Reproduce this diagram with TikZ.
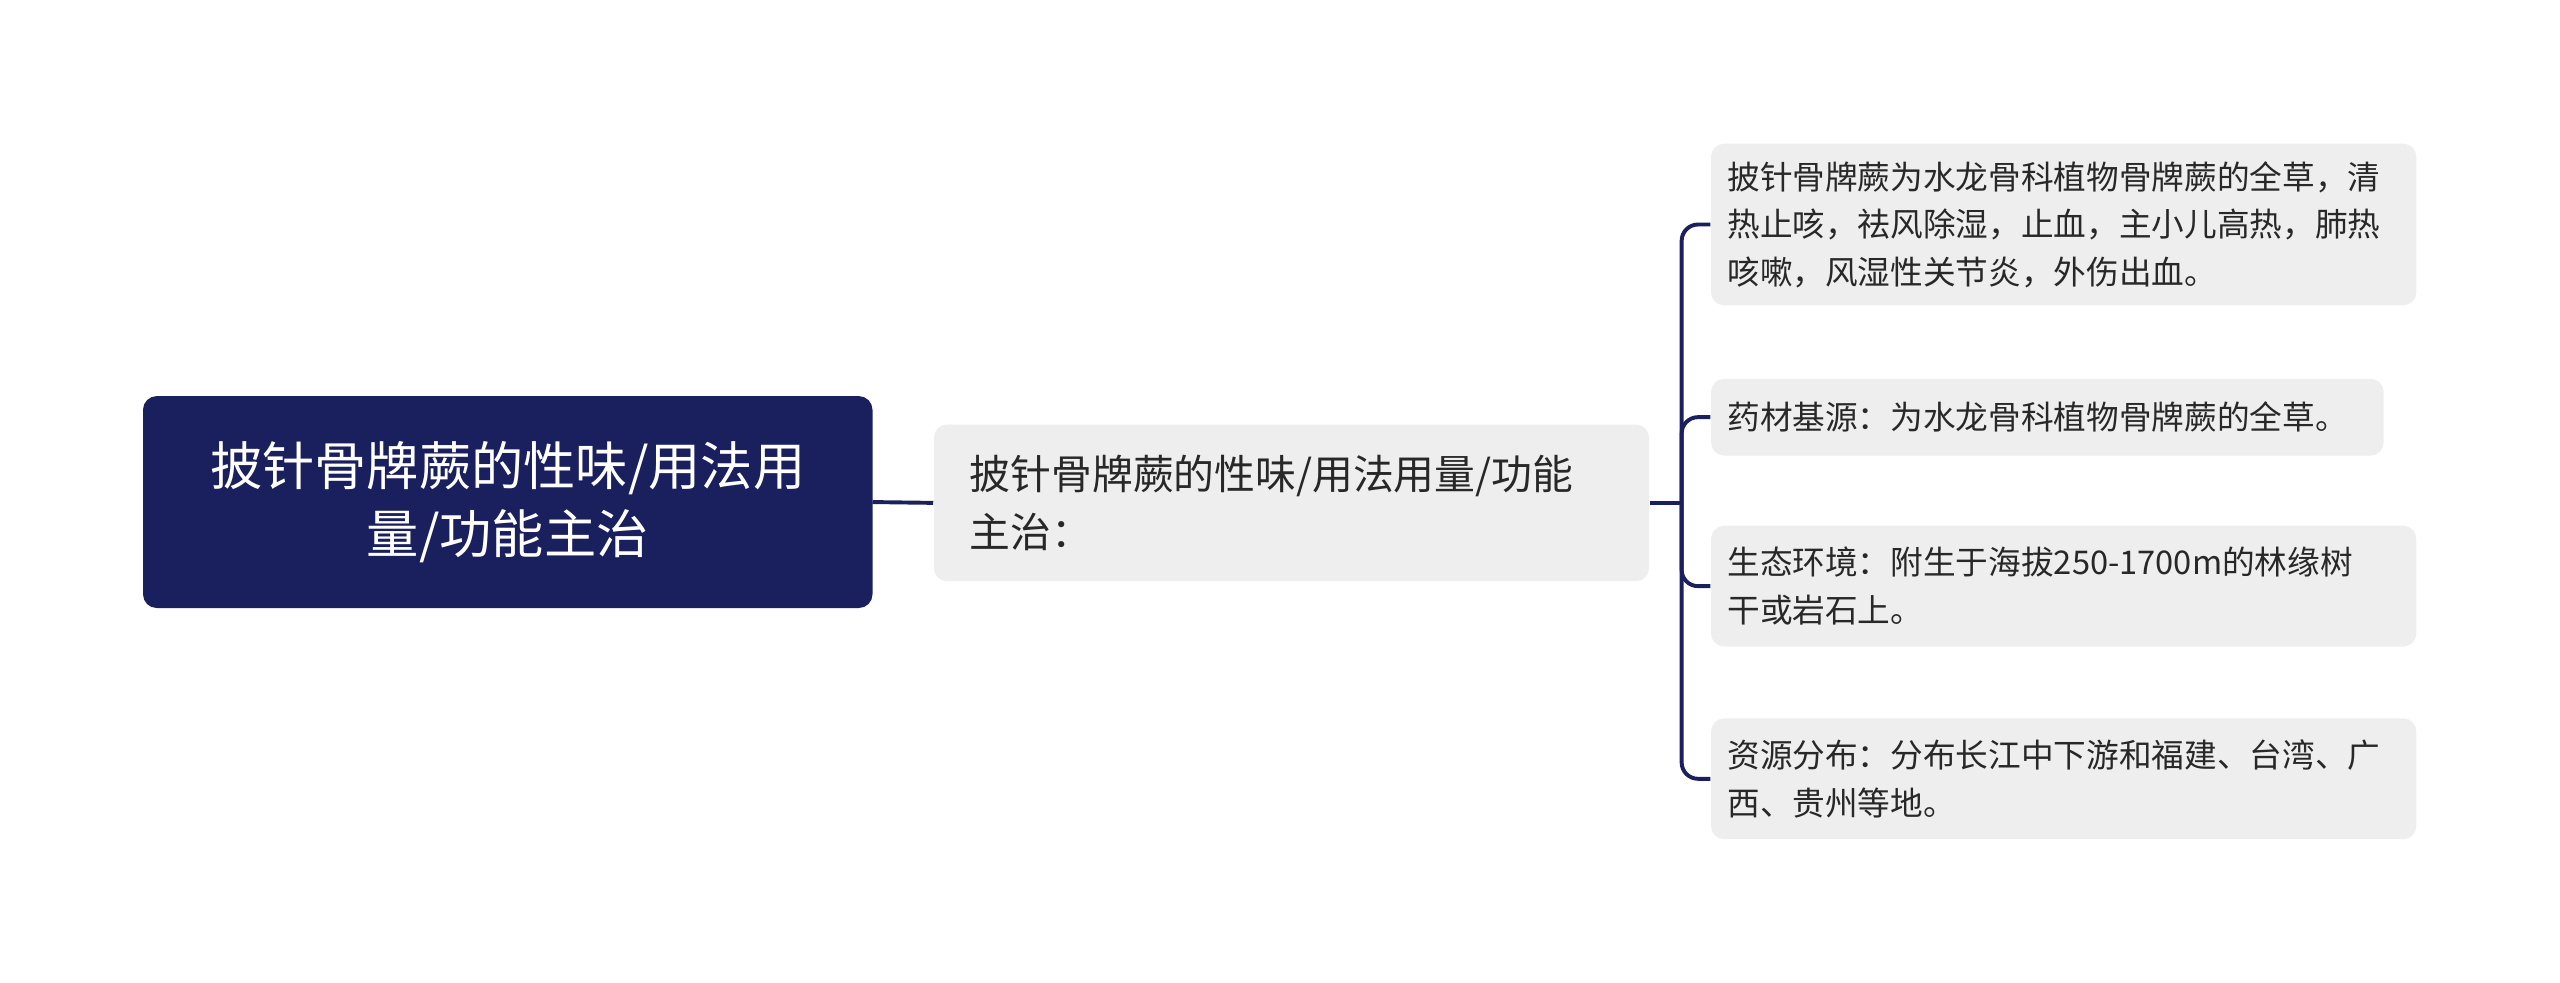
\documentclass[tikz,border=0pt]{standalone}
\usepackage{fontspec}
\setmainfont{Noto Sans CJK SC}
\usetikzlibrary{positioning}
\definecolor{rootnavy}{RGB}{26,31,94}
\definecolor{leafgray}{RGB}{238,238,238}
\definecolor{textgray}{RGB}{40,40,40}

\begin{document}
\begin{tikzpicture}[x=0.5pt, y=-0.5pt,
        rootbox/.style={rounded corners=4pt, fill=rootnavy, draw=rootnavy, text=white, align=center, font=\fontsize{16}{21}\selectfont, inner sep=0pt},
        midbox/.style={rounded corners=4pt, fill=leafgray, text=textgray, align=left, font=\fontsize{12.5}{18}\selectfont, inner sep=0pt, text width=197pt},
        leafbox/.style={rounded corners=4pt, fill=leafgray, text=textgray, align=left, font=\fontsize{10}{14.5}\selectfont, inner sep=0pt, text width=206pt},
        link/.style={draw=rootnavy, line width=1.2pt, rounded corners=5pt}
    ]
        \useasboundingbox (0,0) rectangle (1568,602);

        % Root
        \node[rootbox, minimum width=223pt, minimum height=64.5pt] (root) at (311,307.5)
            {披针骨牌蕨的性味/用法用\\量/功能主治};

        % Middle
        \node[midbox, minimum width=219pt, minimum height=48pt] (mid) at (791,308)
            {披针骨牌蕨的性味/用法用量/功能\\主治：};

        % Leaves
        \node[leafbox, minimum width=216pt, minimum height=49.5pt] (leafA) at (1264,137.5)
            {披针骨牌蕨为水龙骨科植物骨牌蕨的全草，清\\热止咳，祛风除湿，止血，主小儿高热，肺热\\咳嗽，风湿性关节炎，外伤出血。};
        \node[leafbox, text width=196pt, minimum width=206pt, minimum height=23.5pt] (leafB) at (1254,255.5)
            {药材基源：为水龙骨科植物骨牌蕨的全草。};
        \node[leafbox, minimum width=216pt, minimum height=37pt] (leafC) at (1264,359)
            {生态环境：附生于海拔250-1700m的林缘树\\干或岩石上。};
        \node[leafbox, minimum width=216pt, minimum height=37pt] (leafD) at (1264,477)
            {资源分布：分布长江中下游和福建、台湾、广\\西、贵州等地。};

        % Connectors
        \draw[link] (root.east) -- (mid.west);
        \coordinate (fork) at (1030,308);
        \draw[link] (mid.east) -- (fork);
        \foreach \leaf in {leafA, leafB, leafC, leafD}
            \draw[link] (fork) |- (\leaf.west);
    \end{tikzpicture}
\end{document}
